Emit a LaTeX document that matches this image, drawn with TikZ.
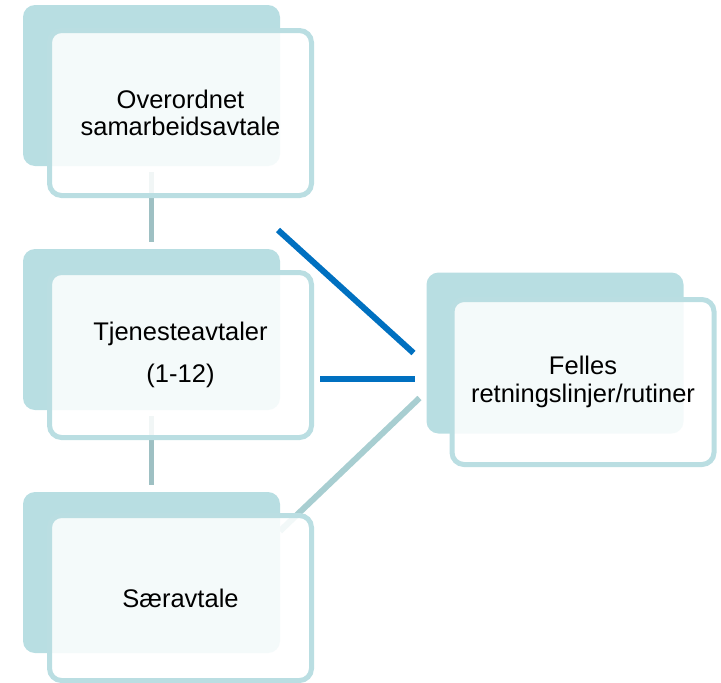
\documentclass[tikz,border=0pt]{standalone}
\usepackage{fontspec}
\setmainfont{Liberation Sans}
\usetikzlibrary{calc,backgrounds}
\definecolor{backfill}{RGB}{184,222,226}
\definecolor{frontline}{RGB}{186,222,226}
\definecolor{vline}{RGB}{158,192,195}
\definecolor{tline}{RGB}{168,206,209}
\definecolor{blueline}{RGB}{0,112,192}
\tikzset{
 backbox/.style={draw=none, fill=backfill, rounded corners=12pt, minimum width=257pt, minimum height=161pt, inner sep=0pt, outer sep=0pt},
 frontbox/.style={draw=frontline, line width=5pt, fill=white, fill opacity=0.86, text opacity=1, rounded corners=12pt, minimum width=262pt, minimum height=165pt, align=center, font=\fontsize{25.5}{27.5}\selectfont, inner sep=0pt, outer sep=0pt},
 vconn/.style={draw=vline, line width=5pt, shorten <=6pt, shorten >=7pt},
 bconn/.style={draw=blueline, line width=6pt},
 tconn/.style={draw=tline, line width=6pt},
}
\begin{document}
\begin{tikzpicture}[x=1pt,y=-1pt]
\useasboundingbox (0,0) rectangle (721,683);
\node[backbox] (b1) at (151.5,85.5) {};
\node[frontbox] (f1) at (180.5,113) {Overordnet\\samarbeidsavtale};
\node[backbox] (b2) at (151.5,329.5) {};
\node[frontbox] (f2) at (180.5,355) {Tjenesteavtaler\\[14pt](1-12)};
\node[backbox] (b3) at (151.5,572.5) {};
\node[frontbox] (f3) at (180.5,598) {Særavtale};
\node[backbox] (b4) at (555,353) {};
\node[frontbox] (f4) at (583,382) {Felles\\retningslinjer/rutiner};
\begin{scope}[on background layer]
\draw[vconn] (b1.south) -- (b2.north);
\draw[vconn] (b2.south) -- (b3.north);
\coordinate (d1) at ($(f1.south east)+(-33.5,34.5)$);
\coordinate (d1e) at ($(b4.west)+(-13,0)$);
\draw[bconn] (d1) -- (d1e);
\coordinate (h1) at ($(f2.east)+(8.5,24)$);
\coordinate (h1e) at ($(b4.west)+(-12,26)$);
\draw[bconn] (h1) -- (h1e);
\coordinate (t1) at ($(b4.west)+(-7,45)$);
\coordinate (t1e) at ($(b3.north east)+(0,39)$);
\draw[tconn] (t1) -- (t1e);
\end{scope}
\end{tikzpicture}
\end{document}
